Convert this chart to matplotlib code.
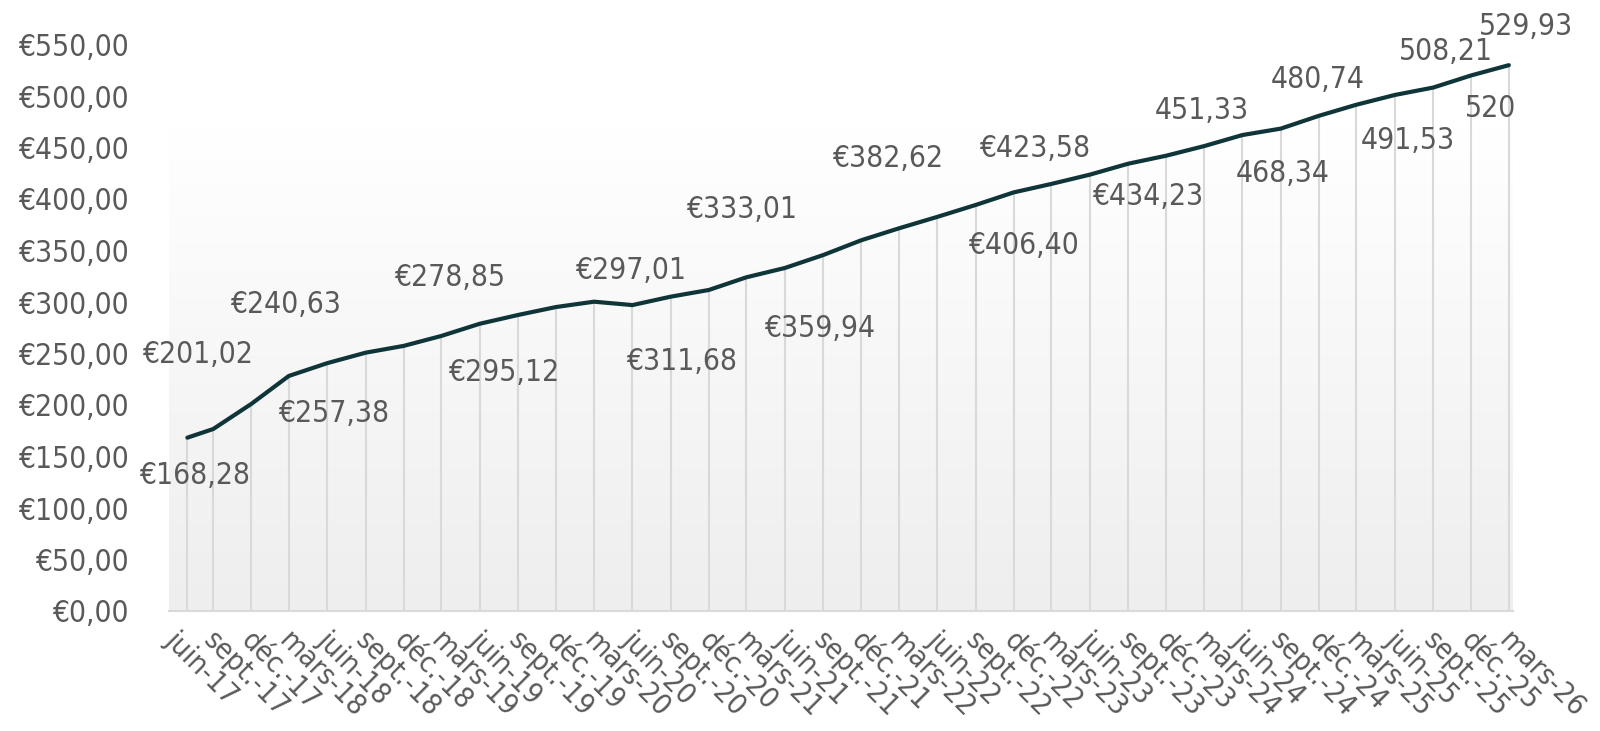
import numpy as np
import pandas as pd
import matplotlib
matplotlib.use("Agg")
from matplotlib import pyplot as plt
import matplotlib.dates as mdates
from matplotlib.colors import LinearSegmentedColormap

# quarterly values (mid-month), first point is July 2017
dates = pd.to_datetime(['2017-07-15'] + [str(p) + '-15' for p in pd.period_range('2017-09', '2026-03', freq='3M')])
values = [168.28, 176.7, 201.02, 228.2, 240.63, 250.8, 257.38, 267.0, 278.85, 287.4,
          295.12, 300.3, 297.01, 305.2, 311.68, 324.0, 333.01, 345.6, 359.94, 371.5,
          382.62, 394.2, 406.40, 414.6, 423.58, 434.23, 442.0, 451.33, 462.1, 468.34,
          480.74, 491.53, 501.0, 508.21, 520.0, 529.93]

# labelled points: index -> text
labels = {0: '€168,28', 2: '€201,02', 4: '€240,63', 6: '€257,38', 8: '€278,85',
          10: '€295,12', 12: '€297,01', 14: '€311,68', 16: '€333,01', 18: '€359,94',
          20: '€382,62', 22: '€406,40', 24: '€423,58', 25: '€434,23', 27: '451,33',
          29: '468,34', 30: '480,74', 31: '491,53', 33: '508,21', 34: '520', 35: '529,93'}
# where each label sits relative to its point (pixels, right / down)
offsets = {0: (7, 38), 2: (-54, -49), 4: (-42, -59), 6: (-70, 68), 8: (-30, -46),
           10: (-52, 65), 12: (-2, -35), 14: (-27, 72), 16: (-43, -58), 18: (-42, 88),
           20: (-50, -58), 22: (10, 53), 24: (-55, -26), 25: (20, 33), 27: (-2, -36),
           29: (2, 45), 30: (-1, -36), 31: (51, 36), 33: (13, -36), 34: (19, 33), 35: (17, -39)}

mois = {6: 'juin', 9: 'sept.', 12: 'déc.', 3: 'mars'}
ticks = pd.date_range('2017-06-01', '2026-03-01', freq='3MS')
tick_labels = [mois[t.month] + '-' + t.strftime('%y') for t in ticks]

grey = '#595959'
font = dict(family='DejaVu Sans', stretch='condensed', size=21.5, color=grey)

fig = plt.figure(figsize=(16, 7.31), dpi=100)
ax = fig.add_axes([169 / 1600, 1 - 611 / 731, (1513 - 169) / 1600, (611 - 44.5) / 731])

x0 = mdates.date2num(pd.Timestamp('2017-06-01'))
x1 = mdates.date2num(pd.Timestamp('2026-03-25'))
ax.set_xlim(x0, x1)
ax.set_ylim(0, 550)

# plot-area gradient
cmap = LinearSegmentedColormap.from_list('g', [(0, '#eeeeee'), (0.85, '#ffffff'), (1, '#ffffff')])
grad = np.linspace(0, 1, 256).reshape(-1, 1)
ax.imshow(grad, cmap=cmap, aspect='auto', origin='lower', extent=[x0, x1, 0, 550], zorder=0)

ax.vlines(dates, 0, values, color='#d9d9d9', lw=1.5, zorder=1)
ax.plot(dates, values, color='#0f3539', lw=3, solid_capstyle='round', zorder=3)

for i, txt in labels.items():
    dx, dy = offsets[i]
    ax.annotate(txt, (dates[i], values[i]), xytext=(dx, -dy), textcoords='offset pixels',
                ha='center', va='center', annotation_clip=False, **font)

for s in ['top', 'right', 'left']:
    ax.spines[s].set_visible(False)
ax.spines['bottom'].set_color('#d9d9d9')
ax.spines['bottom'].set_linewidth(1.5)

ax.set_yticks(np.arange(0, 551, 50))
ax.set_yticklabels(['€' + f'{v:.2f}'.replace('.', ',') for v in np.arange(0, 551, 50)])
ax.tick_params(axis='y', length=0, pad=29)
ax.set_xticks(mdates.date2num(ticks))
ax.set_xticklabels(tick_labels, rotation=-45, ha='left', va='center', rotation_mode='anchor')
ax.tick_params(axis='x', length=0, pad=18)
for lab in ax.get_yticklabels():
    lab.set_family('DejaVu Sans')
    lab.set_stretch('condensed')
    lab.set_fontsize(21.5)
    lab.set_color(grey)
for lab in ax.get_xticklabels():
    lab.set_family('DejaVu Sans')
    lab.set_stretch('condensed')
    lab.set_fontsize(21)
    lab.set_color(grey)

fig.savefig('out.png', dpi=100)
